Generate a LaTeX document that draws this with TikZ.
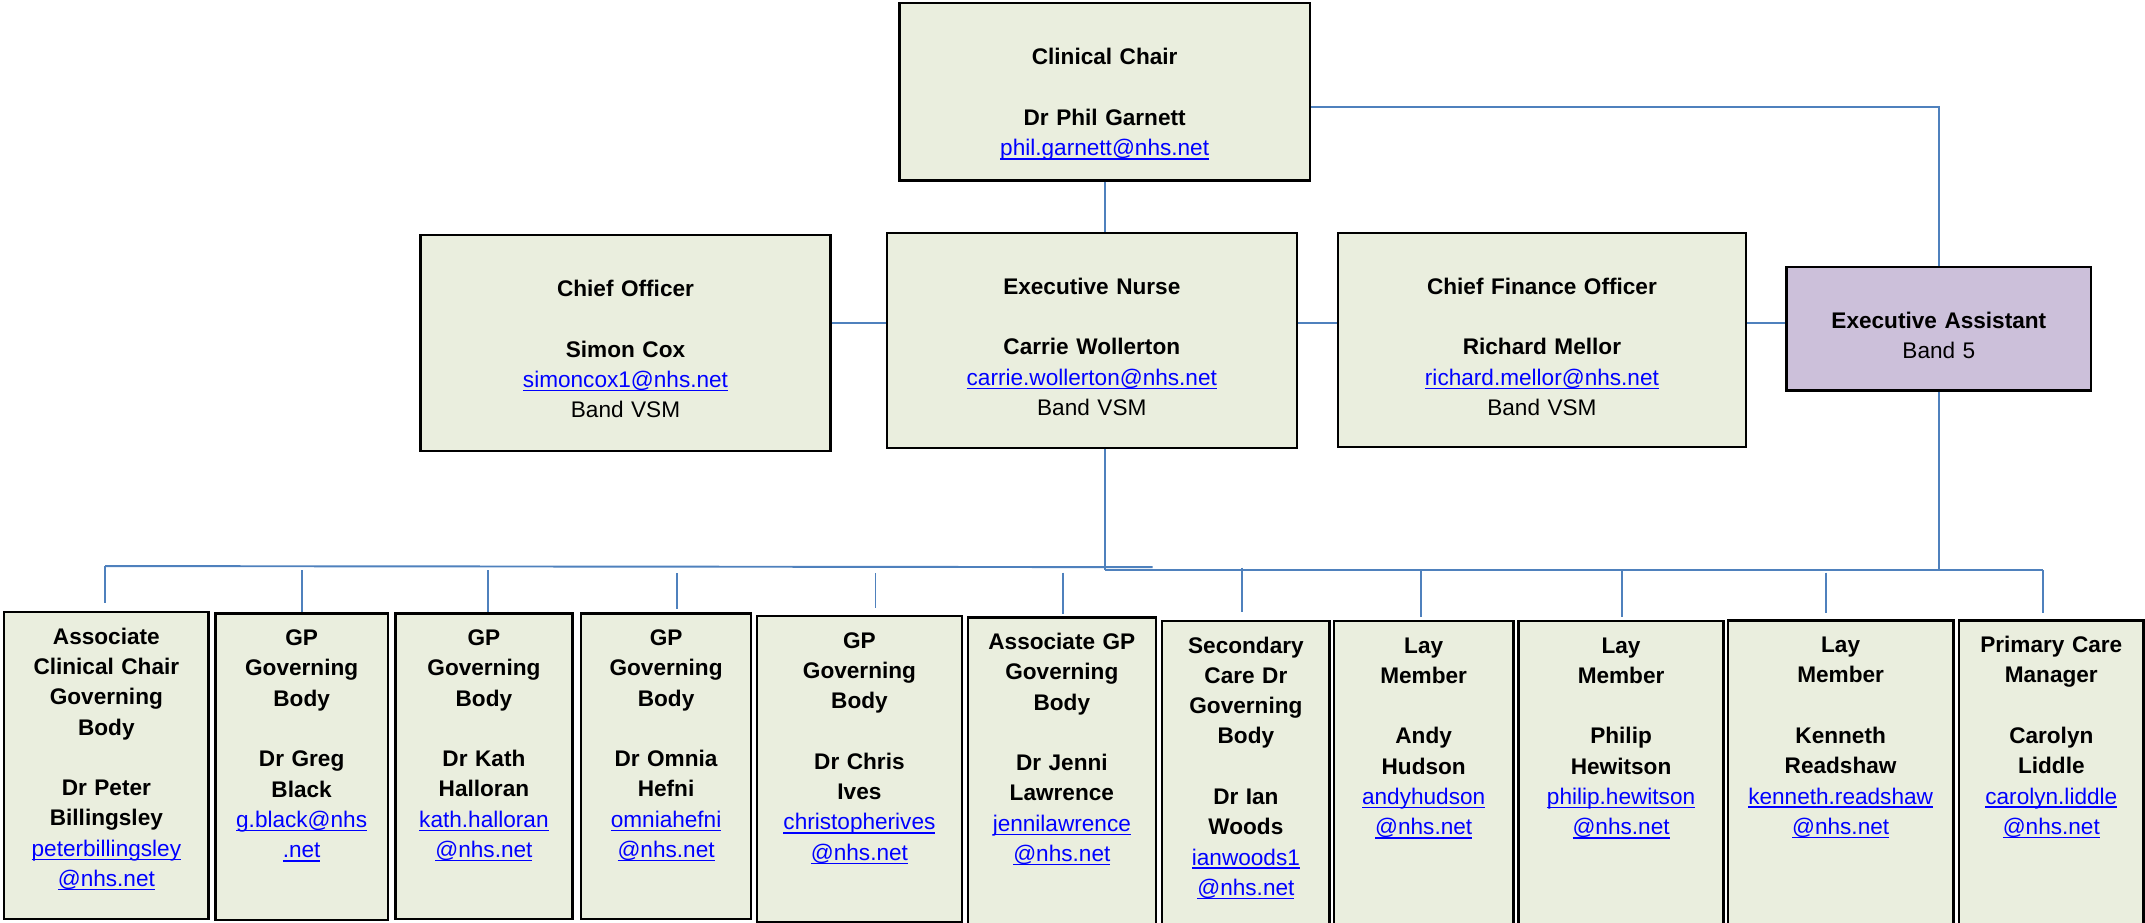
\documentclass[tikz,border=0pt]{standalone}
\usepackage{fontspec}
\setmainfont{Liberation Sans}
\usepackage{tikz}
\usetikzlibrary{positioning, calc}
\definecolor{cardgreen}{RGB}{234, 238, 222}
\definecolor{cardlilac}{RGB}{204, 192, 218}
\definecolor{linkblue}{RGB}{0, 0, 255}
\definecolor{wireblue}{RGB}{79, 129, 189}
\newcommand{\nhsmail}[1]{\textcolor{linkblue}{\setbox0\hbox{#1}\rlap{\rule[-1.6pt]{\wd0}{0.6pt}}\box0}}

\begin{document}
\begin{tikzpicture}[x=0.2mm, y=-0.2mm,
  card/.style={draw=black, line width=1pt, anchor=north, align=center, inner xsep=0pt, text height=2.4mm, font=\fontsize{9.4}{12.6}\selectfont},
  officer/.style 2 args={card, fill=cardgreen, inner ysep=6.6mm, text width=#1, text depth=#2},
  member/.style 2 args={card, fill=cardgreen, inner ysep=2.3mm, text width=#1, text depth=#2},
  wire/.style={draw=wireblue, line width=0.8pt}]

  \useasboundingbox (0,0) rectangle (1568,674);

  % Top: chair
  \node[officer={60mm}{10.3mm}] (chair) at (807.5,1.5) {
    \textbf{Clinical Chair}\\[\baselineskip]
    \textbf{Dr Phil Garnett}\\
    \nhsmail{phil.garnett@nhs.net}
  };

  % Second tier
  \node[officer={59.9mm}{16mm}] (chiefoff) at (457.25,171) {
    \textbf{Chief Officer}\\[\baselineskip]
    \textbf{Simon Cox}\\
    \nhsmail{simoncox1@nhs.net}\\
    Band VSM
  };
  \node[officer={59.92mm}{15.84mm}] (nurse) at (798.1,169.3) {
    \textbf{Executive Nurse}\\[\baselineskip]
    \textbf{Carrie Wollerton}\\
    \nhsmail{carrie.wollerton@nhs.net}\\
    Band VSM
  };
  \node[officer={59.7mm}{15.74mm}] (finance) at (1127.15,169.3) {
    \textbf{Chief Finance Officer}\\[\baselineskip]
    \textbf{Richard Mellor}\\
    \nhsmail{richard.mellor@nhs.net}\\
    Band VSM
  };
  \node[officer={44.52mm}{2.48mm}, fill=cardlilac] (assist) at (1417.3,194.2) {
    \textbf{Executive Assistant}\\
    Band 5
  };

  % Governing body members
  \node[member={29.9mm}{37.9mm}] (body1) at (77.75,446.5) {
    \textbf{Associate}\\\textbf{Clinical Chair}\\\textbf{Governing}\\\textbf{Body}\\[\baselineskip]
    \textbf{Dr Peter}\\\textbf{Billingsley}\\
    \nhsmail{peterbillingsley}\\\nhsmail{@nhs.net}
  };
  \node[member={25.2mm}{37.78mm}] (body2) at (220.5,447.6) {
    \textbf{GP}\\\textbf{Governing}\\\textbf{Body}\\[\baselineskip]
    \textbf{Dr Greg}\\\textbf{Black}\\
    \nhsmail{g.black@nhs}\\\nhsmail{.net}
  };
  \node[member={25.9mm}{37.7mm}] (body3) at (353.75,447.5) {
    \textbf{GP}\\\textbf{Governing}\\\textbf{Body}\\[\baselineskip]
    \textbf{Dr Kath}\\\textbf{Halloran}\\
    \nhsmail{kath.halloran}\\\nhsmail{@nhs.net}
  };
  \node[member={24.84mm}{37.7mm}] (body4) at (486.9,447.5) {
    \textbf{GP}\\\textbf{Governing}\\\textbf{Body}\\[\baselineskip]
    \textbf{Dr Omnia}\\\textbf{Hefni}\\
    \nhsmail{omniahefni}\\\nhsmail{@nhs.net}
  };
  \node[member={29.9mm}{37.76mm}] (body5) at (628.25,449.4) {
    \textbf{GP}\\\textbf{Governing}\\\textbf{Body}\\[\baselineskip]
    \textbf{Dr Chris}\\\textbf{Ives}\\
    \nhsmail{christopherives}\\\nhsmail{@nhs.net}
  };
  \node[member={27.52mm}{38.32mm}] (body6) at (776.2,450.4) {
    \textbf{Associate GP}\\\textbf{Governing}\\\textbf{Body}\\[\baselineskip]
    \textbf{Dr Jenni}\\\textbf{Lawrence}\\
    \nhsmail{jennilawrence}\\\nhsmail{@nhs.net}
  };
  \node[member={24.5mm}{37.8mm}] (body7) at (910.75,453) {
    \textbf{Secondary}\\\textbf{Care Dr}\\\textbf{Governing}\\\textbf{Body}\\[\baselineskip]
    \textbf{Dr Ian}\\\textbf{Woods}\\
    \nhsmail{ianwoods1}\\\nhsmail{@nhs.net}
  };
  \node[member={26.28mm}{37.8mm}] (body8) at (1040.7,453) {
    \textbf{Lay}\\\textbf{Member}\\[\baselineskip]
    \textbf{Andy}\\\textbf{Hudson}\\
    \nhsmail{andyhudson}\\\nhsmail{@nhs.net}
  };
  \node[member={30mm}{37.8mm}] (body9) at (1185,453) {
    \textbf{Lay}\\\textbf{Member}\\[\baselineskip]
    \textbf{Philip}\\\textbf{Hewitson}\\
    \nhsmail{philip.hewitson}\\\nhsmail{@nhs.net}
  };
  \node[member={33mm}{37.8mm}] (body10) at (1345.5,452.7) {
    \textbf{Lay}\\\textbf{Member}\\[\baselineskip]
    \textbf{Kenneth}\\\textbf{Readshaw}\\
    \nhsmail{kenneth.readshaw}\\\nhsmail{@nhs.net}
  };
  \node[member={27mm}{37.8mm}] (body11) at (1499.5,452.7) {
    \textbf{Primary Care}\\\textbf{Manager}\\[\baselineskip]
    \textbf{Carolyn}\\\textbf{Liddle}\\
    \nhsmail{carolyn.liddle}\\\nhsmail{@nhs.net}
  };

  % Rails and bus
  \coordinate (rail) at (0,78);
  \coordinate (tier) at (0,236);
  \coordinate (busw) at (76.8,413.8);
  \coordinate (buse) at (842.6,414.6);
  \coordinate (busr) at (1493.6,416.7);

  % Chair links
  \draw[wire] (chair.south) -- (chair.south |- nurse.north);
  \draw[wire] (chair.east |- rail) -| (assist.north);

  % Same tier links
  \draw[wire] (chiefoff.east |- tier) -- (nurse.west |- tier);
  \draw[wire] (nurse.east |- tier) -- (finance.west |- tier);
  \draw[wire] (finance.east |- tier) -- (assist.west |- tier);

  % Down to the bus
  \draw[wire] (chair.south |- nurse.south) -- (chair.south |- busr);
  \draw[wire] (assist.south) -- (assist.south |- busr);
  \draw[wire] (busw) -- (buse);
  \draw[wire] (chair.south |- busr) -- (busr);

  % Drops to members
  \foreach \i/\x/\y/\gap in {1/77/414/1.1mm, 2/221/417/0mm, 3/357/417/0mm, 4/495/419/0.5mm,
      5/640/419/1mm, 6/777.3/418.6/0.3mm, 7/908/415/1.1mm, 8/1038.7/417.2/0.4mm,
      9/1185.6/417.2/0.4mm, 10/1335/418.6/0.9mm, 11/1493.6/416.7/0.9mm} {
    \coordinate (drop\i) at (\x,\y);
    \draw[wire, shorten >=\gap] (drop\i) -- (drop\i |- body\i.north);
  }
\end{tikzpicture}
\end{document}
